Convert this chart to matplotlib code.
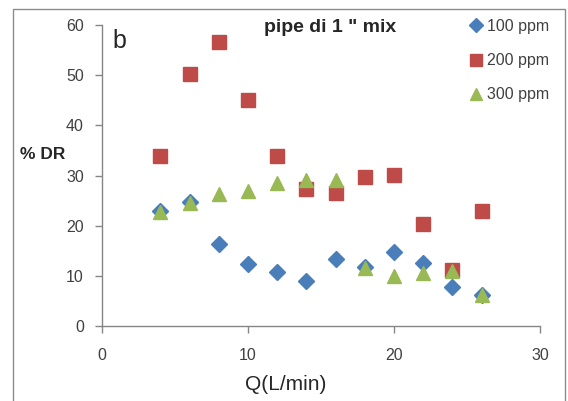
import matplotlib
matplotlib.use("Agg")
import matplotlib.pyplot as plt
from matplotlib.patches import Rectangle

plt.rcParams['font.family'] = ['Liberation Sans', 'DejaVu Sans']

# Flow rate (L/min) and drag reduction (%) for each polymer concentration
flow = [4, 6, 8, 10, 12, 14, 16, 18, 20, 22, 24, 26]
dr_100 = [23.0, 24.7, 16.3, 12.4, 10.7, 9.0, 13.4, 11.7, 14.7, 12.5, 7.7, 6.2]
dr_200 = [33.9, 50.3, 56.7, 45.1, 33.9, 27.3, 26.5, 29.7, 30.1, 20.3, 11.2, 22.9]
dr_300 = [22.7, 24.5, 26.3, 27.0, 28.5, 29.1, 29.1, 11.5, 9.9, 10.5, 10.9, 6.2]

series_labels = ['100 ppm', '200 ppm', '300 ppm']
x_ticks = [0, 10, 20, 30]
y_ticks = [0, 10, 20, 30, 40, 50, 60]

W, H = 568, 401
fig = plt.figure(figsize=(W / 100, H / 100), dpi=100)

# outer chart frame
fig.patches.append(Rectangle((12.7 / W, -0.05), (565 - 12.7) / W, 1.05 - 9.3 / H,
                             transform=fig.transFigure, fill=False,
                             edgecolor='#8c8c8c', lw=1.0, clip_on=False))

left, right = 102 / W, 540 / W
bottom, top = 1 - 326 / H, 1 - 25 / H
ax = fig.add_axes([left, bottom, right - left, top - bottom])

ax.plot(flow, dr_100, linestyle='none', marker='D', ms=8, color='#4A7EBB',
        mec='#4A7EBB', label=series_labels[0])
ax.plot(flow, dr_200, linestyle='none', marker='s', ms=9.5, color='#BE4B48',
        mec='#BE4B48', label=series_labels[1])
ax.plot(flow, dr_300, linestyle='none', marker='^', ms=10, color='#98B954',
        mec='#98B954', label=series_labels[2])

ax.set_xlim(0, 30)
ax.set_ylim(0, 60)
ax.set_xticks(x_ticks)
ax.set_yticks(y_ticks)
for s in ['top', 'right']:
    ax.spines[s].set_visible(False)
for s in ['left', 'bottom']:
    ax.spines[s].set_color('#868686')
    ax.spines[s].set_linewidth(1.0)
ax.tick_params(axis='both', direction='out', length=5, width=1.0,
               color='#868686', labelsize=11.5, labelcolor='#404040')
ax.tick_params(axis='x', pad=11)
ax.tick_params(axis='y', pad=8)

fig.text(20 / W, 1 - 154 / H, '% DR', fontsize=12.5, fontweight='bold',
         color='#262626', ha='left', va='center')
fig.text(286 / W, 1 - 384 / H, 'Q(L/min)', fontsize=15, color='#262626',
         ha='center', va='center')
fig.text(330 / W, 1 - 28 / H, 'pipe di 1 " mix', fontsize=14, fontweight='bold',
         color='#262626', ha='center', va='center')
fig.text(112 / W, 1 - 41 / H, 'b', fontsize=18, color='#262626',
         ha='left', va='center')

leg = ax.legend(loc='upper left', bbox_to_anchor=(470 / W, 1 - 19 / H),
                bbox_transform=fig.transFigure, frameon=False, fontsize=11.5,
                handlelength=0.8, handletextpad=0.25, labelspacing=1.2,
                borderaxespad=0, borderpad=0, markerscale=0.85)
for t in leg.get_texts():
    t.set_color('#404040')

fig.savefig('out.png', dpi=100)
